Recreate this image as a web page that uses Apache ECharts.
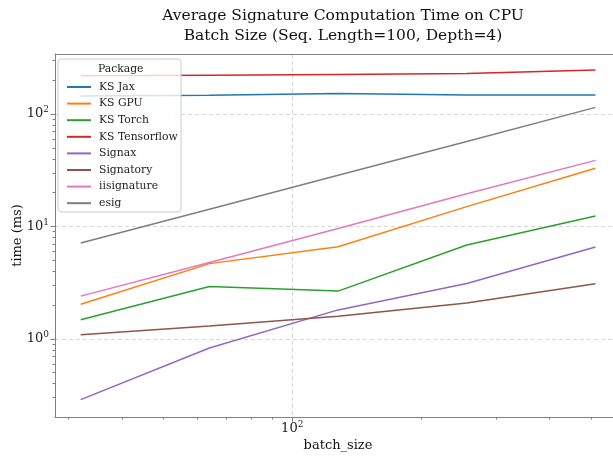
<!DOCTYPE html>
<html><head><meta charset="utf-8">
<script src="https://cdn.jsdelivr.net/npm/echarts@6/dist/echarts.min.js"></script>
<style>html,body{margin:0;padding:0;background:#fff}#c{width:613px;height:457px}</style>
</head><body><div id="c"></div>
<script>
const batchSizes = [32, 64, 128, 256, 512];
const seriesNames = ['KS Jax', 'KS GPU', 'KS Torch', 'KS Tensorflow', 'Signax', 'Signatory', 'iisignature', 'esig'];
const ksJax = [145, 147, 152, 148, 147.5];
const ksGpu = [2.03, 4.67, 6.61, 15.0, 33.0];
const ksTorch = [1.48, 2.92, 2.66, 6.84, 12.4];
const ksTensorflow = [219, 221, 225, 229, 246];
const signax = [0.288, 0.83, 1.81, 3.11, 6.56];
const signatory = [1.09, 1.30, 1.59, 2.08, 3.09];
const iisignature = [2.40, 4.77, 9.6, 19.5, 38.7];
const esig = [7.12, 14.2, 28.5, 57, 114.6];
const seriesValues = [ksJax, ksGpu, ksTorch, ksTensorflow, signax, signatory, iisignature, esig];
const colors = ['#1f77b4', '#ff7f0e', '#2ca02c', '#d62728', '#9467bd', '#8c564b', '#e377c2', '#7f7f7f'];
const xMajorTicks = [100];
const xMinorTicks = [30, 40, 50, 60, 70, 80, 90, 200, 300, 400, 500];
const yMajorTicks = [1, 10, 100];
const yMinorTicks = [0.3, 0.4, 0.5, 0.6, 0.7, 0.8, 0.9, 2, 3, 4, 5, 6, 7, 8, 9, 20, 30, 40, 50, 60, 70, 80, 90, 200, 300];
const titleText = 'Average Signature Computation Time on CPU\nBatch Size (Seq. Length=100, Depth=4)';
const xName = 'batch_size';
const yName = 'time (ms)';
const legendTitle = 'Package';

const FONT = 'DejaVu Serif';
const X_MIN = Math.pow(10, 1.445), X_MAX = Math.pow(10, 2.7503);
const Y_MIN = Math.pow(10, -0.695), Y_MAX = Math.pow(10, 2.534);

const powLabel = v => '{b|10}{e|' + Math.round(Math.log10(v)) + '}';
const labelRich = {
  b: {fontSize: 13, fontFamily: FONT, color: '#222', lineHeight: 17},
  e: {fontSize: 9, fontFamily: FONT, color: '#222', lineHeight: 8, verticalAlign: 'top'}
};
const axisGray = '#808080';
const splitStyle = {show: true, showMinLine: true, showMaxLine: true, lineStyle: {color: '#cccccc', type: [4, 3], width: 0.8}};

const chart = echarts.init(document.getElementById('c'), null, {renderer: 'canvas'});
chart.setOption({
  animation: false,
  backgroundColor: '#fff',
  color: colors,
  title: {
    text: titleText, left: 338, top: 1, textAlign: 'center',
    textStyle: {fontFamily: FONT, fontSize: 15.5, fontWeight: 'normal', color: '#111', lineHeight: 20}
  },
  grid: {left: 55, top: 54, right: 0, bottom: 40, show: false},
  xAxis: [{
    type: 'log', min: X_MIN, max: X_MAX, position: 'bottom',
    axisLine: {show: true, lineStyle: {color: axisGray, width: 1}},
    axisTick: {show: true, length: 4.5, customValues: xMajorTicks, lineStyle: {color: axisGray}},
    axisLabel: {show: true, customValues: xMajorTicks, margin: 3, formatter: powLabel, rich: labelRich},
    splitLine: splitStyle,
    minorTick: {show: false}
  }, {
    type: 'log', min: X_MIN, max: X_MAX, position: 'bottom',
    axisLine: {show: false},
    axisTick: {show: true, length: 2.5, customValues: xMinorTicks, lineStyle: {color: axisGray}},
    axisLabel: {show: false},
    splitLine: {show: false}
  }, {
    type: 'log', min: X_MIN, max: X_MAX, position: 'top',
    axisLine: {show: true, lineStyle: {color: axisGray, width: 1}},
    axisTick: {show: false},
    axisLabel: {show: false},
    splitLine: {show: false}
  }],
  yAxis: [{
    type: 'log', min: Y_MIN, max: Y_MAX, position: 'left',
    axisLine: {show: true, lineStyle: {color: axisGray, width: 1}},
    axisTick: {show: true, length: 4.5, customValues: yMajorTicks, lineStyle: {color: axisGray}},
    axisLabel: {show: true, customValues: yMajorTicks, margin: 6, formatter: powLabel, rich: labelRich, align: 'right'},
    splitLine: splitStyle
  }, {
    type: 'log', min: Y_MIN, max: Y_MAX, position: 'left',
    axisLine: {show: false},
    axisTick: {show: true, length: 2.5, customValues: yMinorTicks, lineStyle: {color: axisGray}},
    axisLabel: {show: false},
    splitLine: {show: false}
  }],
  legend: {
    orient: 'vertical', left: 62, top: 75, z: 20,
    data: seriesNames,
    icon: 'rect', itemWidth: 24, itemHeight: 2, itemGap: 2.6,
    textStyle: {fontFamily: FONT, fontSize: 10.8, color: '#222', lineHeight: 14, padding: [0, 0, 0, 3]}
  },
  graphic: [
    {type: 'rect', z: 10, shape: {x: 58, y: 59, width: 123, height: 153, r: 3},
     style: {fill: 'rgba(255,255,255,0.8)', stroke: '#cccccc', lineWidth: 1}},
    {type: 'text', z: 21, x: 120.7, y: 69,
     style: {text: legendTitle, font: '10.8px "DejaVu Serif"', fill: '#222', align: 'center', verticalAlign: 'middle'}},
    {type: 'text', z: 21, x: 18, y: 235.5, rotation: Math.PI / 2,
     style: {text: yName, font: '13px "DejaVu Serif"', fill: '#111', align: 'center', verticalAlign: 'middle'}},
    {type: 'text', z: 21, x: 338, y: 446,
     style: {text: xName, font: '13px "DejaVu Serif"', fill: '#111', align: 'center', verticalAlign: 'middle'}}
  ],
  series: seriesNames.map((name, i) => ({
    name: name, type: 'line', xAxisIndex: 0, yAxisIndex: 0,
    showSymbol: false, symbol: 'none', smooth: false,
    lineStyle: {width: 1.5, color: colors[i]},
    itemStyle: {color: colors[i]},
    data: batchSizes.map((b, j) => [b, seriesValues[i][j]])
  }))
});
</script></body></html>
